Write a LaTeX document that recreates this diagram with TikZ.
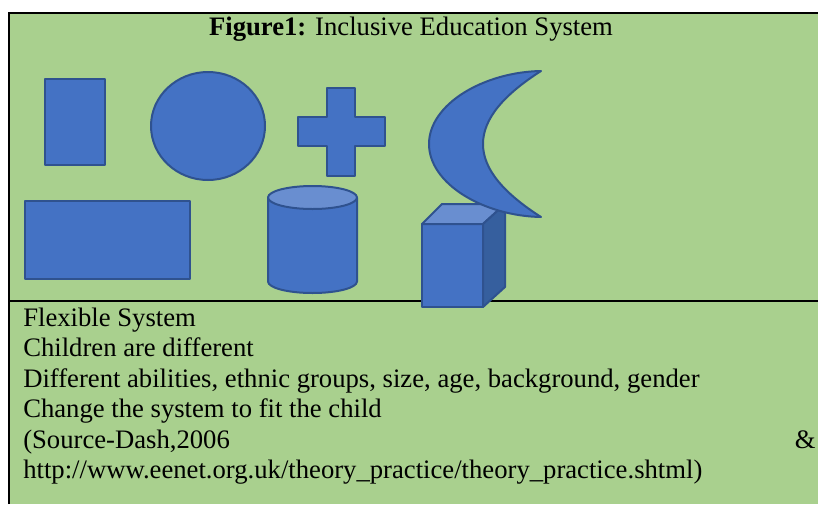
\documentclass[tikz,border=0pt]{standalone}
\usepackage{fontspec}
\setmainfont{Liberation Serif}
\definecolor{bggreen}{HTML}{A9D08E}
\definecolor{shapeblue}{HTML}{4472C4}
\definecolor{shapeedge}{HTML}{2F528F}
\definecolor{lightblue}{HTML}{698ED0}
\definecolor{darkblue}{HTML}{365F9E}
\tikzset{
  shp/.style={fill=shapeblue, draw=shapeedge, line width=1.5pt, line join=round},
  txt/.style={anchor=base west, inner sep=0pt, font=\fontsize{20}{24}\selectfont},
  rule/.style={line width=1.5pt, black}
}
\begin{document}
\begin{tikzpicture}[x=0.75pt, y=-0.75pt]
\useasboundingbox (0,0) rectangle (818,504);
% background
\fill[white] (0,0) rectangle (818,504);
\fill[bggreen] (9,13) rectangle (818,504);
% borders
\draw[rule] (9,504) -- (9,13) -- (818,13);
\draw[rule] (9,301) -- (818,301);
% title
\node[anchor=base, inner sep=0pt, font=\fontsize{20}{24}\selectfont] (title) at (411,35) {\textbf{Figure1:} Inclusive Education System};
% shapes
\draw[shp] (45,79) rectangle (105,165);
\draw[shp] (208,126) ellipse [x radius=57, y radius=54];
\draw[shp] (326.5,88) -- (355,88) -- (355,117) -- (384.5,117) -- (384.5,146) -- (355,146) -- (355,176) -- (326.5,176) -- (326.5,146) -- (298,146) -- (298,117) -- (326.5,117) -- cycle;
\draw[shp] (24.5,201) rectangle (190,279);
% cylinder
\draw[shp] (268,197.5) -- (268,281.5) arc[start angle=180, end angle=0, x radius=44.5, y radius=11.5] -- (357,197.5) -- cycle;
\draw[shp, fill=lightblue] (312.5,197.5) ellipse [x radius=44.5, y radius=11.5];
% cube
\draw[shp] (422,224) rectangle (483,307);
\draw[shp, fill=lightblue] (422,224) -- (442,204) -- (505,204) -- (483,224) -- cycle;
\draw[shp, fill=darkblue] (483,224) -- (505,204) -- (505,287) -- (483,307) -- cycle;
% moon
\draw[shp] (541,71) .. controls (484,72) and (429,104) .. (429,144) .. controls (429,184) and (484,216) .. (541,217)
  .. controls (505,194) and (483,170) .. (483,144) .. controls (483,118) and (505,94) .. (541,71) -- cycle;
% text
\node[txt] (l1) at (23,326) {Flexible System};
\node[txt] (l2) at (23,356.5) {Children are different};
\node[txt] (l3) at (23,387) {Different abilities, ethnic groups, size, age, background, gender};
\node[txt] (l4) at (23,417.5) {Change the system to fit the child};
\node[txt] (l5) at (23,448) {(Source-Dash,2006};
\node[txt, anchor=base east] (amp) at (816,448) {\&};
\node[txt] (l6) at (23,478) {http://www.eenet.org.uk/theory\_practice/theory\_practice.shtml)};
\end{tikzpicture}
\end{document}
